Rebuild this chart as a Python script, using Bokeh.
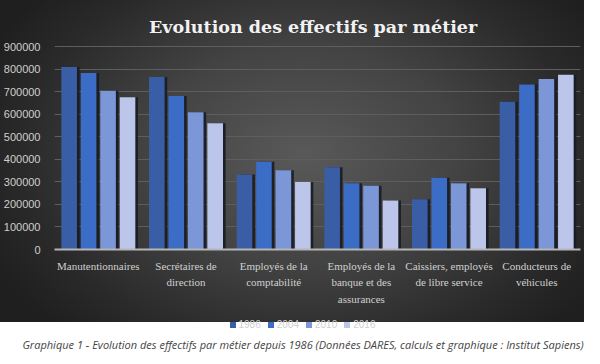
from bokeh.plotting import figure
from bokeh.models import (FixedTicker, NumeralTickFormatter, Div, Range1d, FactorRange, Label)
from bokeh.transform import dodge
from bokeh.layouts import column
from bokeh.embed import file_html
from bokeh.resources import INLINE

categories = ["Manutentionnaires", "Secrétaires de\ndirection", "Employés de la\ncomptabilité",
              "Employés de la\nbanque et des\nassurances", "Caissiers, employés\nde libre service",
              "Conducteurs de\nvéhicules"]
years = ["1986", "2004", "2010", "2016"]
v1986 = [810000, 765000, 333000, 365000, 223000, 656000]
v2004 = [783000, 681000, 389000, 294000, 318000, 732000]
v2010 = [705000, 609000, 352000, 283000, 294000, 757000]
v2016 = [676000, 560000, 299000, 218000, 272000, 775000]
y_ticks = [0, 100000, 200000, 300000, 400000, 500000, 600000, 700000, 800000, 900000]
colors = ["#3a5ea6", "#3b6cc6", "#7b97d7", "#bcc6ea"]
title_text = "Evolution des effectifs par métier"

data = dict(cat=categories, y1986=v1986, y2004=v2004, y2010=v2010, y2016=v2016)

# frame extends to the top of the figure; the top tick (900000) sits ~40px below it
p = figure(width=584, height=308, x_range=FactorRange(*categories), y_range=Range1d(0, 1105000),
           output_backend="svg", toolbar_location=None, title=None,
           min_border_left=44, min_border_right=4, min_border_top=0, min_border_bottom=40)
p.background_fill_alpha = 0
p.border_fill_alpha = 0
p.outline_line_color = None

p.add_layout(Label(x=2.95, y=989000, text=title_text, text_align="center",
                   text_baseline="middle", text_font="DejaVu Serif", text_font_style="bold",
                   text_font_size="17.5px", text_color="#f2f2f2"))

step = 0.222
bw = 0.178
offsets = [-1.5 * step, -0.5 * step, 0.5 * step, 1.5 * step]
cols = ["y1986", "y2004", "y2010", "y2016"]
for col, off in zip(cols, offsets):
    p.vbar(x=dodge("cat", off + 0.03, range=p.x_range), top=col, width=bw, source=data,
           fill_color="#181c24", line_color=None, fill_alpha=0.9)
for col, off, c in zip(cols, offsets, colors):
    p.vbar(x=dodge("cat", off, range=p.x_range), top=col, width=bw, source=data,
           fill_color=c, line_color=None)

p.yaxis.ticker = FixedTicker(ticks=y_ticks)
p.yaxis.formatter = NumeralTickFormatter(format="0")
p.yaxis.axis_line_color = None
p.yaxis.major_tick_line_color = None
p.yaxis.minor_tick_line_color = None
p.yaxis.major_label_text_color = "#cfcfcf"
p.yaxis.major_label_text_font = "Liberation Sans"
p.yaxis.major_label_text_font_size = "11px"
p.yaxis.major_label_standoff = 8

p.xaxis.axis_line_color = "#b5b5b5"
p.xaxis.axis_line_width = 2
p.xaxis.major_tick_line_color = None
p.xaxis.minor_tick_line_color = None
p.xaxis.major_label_text_color = "#d0d0d0"
p.xaxis.major_label_text_font = "Liberation Serif"
p.xaxis.major_label_text_font_size = "11px"
p.xaxis.major_label_text_line_height = 1.4
p.xaxis.major_label_standoff = 4
p.xaxis.major_label_orientation = "horizontal"

p.xgrid.grid_line_color = None
p.ygrid.grid_line_color = "#5e5e5e"
p.ygrid.grid_line_width = 1

legend_html = "".join(
    f'<span style="display:inline-block;width:6px;height:6px;background:{c};'
    f'margin-right:3px;vertical-align:middle"></span>'
    f'<span style="margin-right:7px;vertical-align:middle">{yr}</span>'
    for c, yr in zip(colors, years))
legend_div = Div(text=legend_html, width=584, height=14,
                 styles={"font-family": "Liberation Sans", "font-size": "10px",
                         "color": "#d0d0d0", "text-align": "center", "width": "584px",
                         "padding-left": "18px", "transform": "translateY(5px)"})

chart = column(p, legend_div, width=584, height=322,
               styles={"background-image": "radial-gradient(ellipse 60% 75% at 52% 48%, #595959 0%, #434343 45%, #2a2a2a 80%, #1f1f1f 100%)"})

caption = Div(text="Graphique 1 - Evolution des effectifs par métier depuis 1986 (Données DARES, calculs et graphique : Institut Sapiens)",
              width=584, height=26,
              styles={"font-family": "Open Sans", "font-style": "italic", "font-size": "11px",
                      "color": "#444444", "text-align": "center", "padding-top": "10px",
                      "padding-left": "12px", "width": "584px"})

layout = column(chart, caption)
open("out.html", "w").write(file_html(layout, INLINE))
